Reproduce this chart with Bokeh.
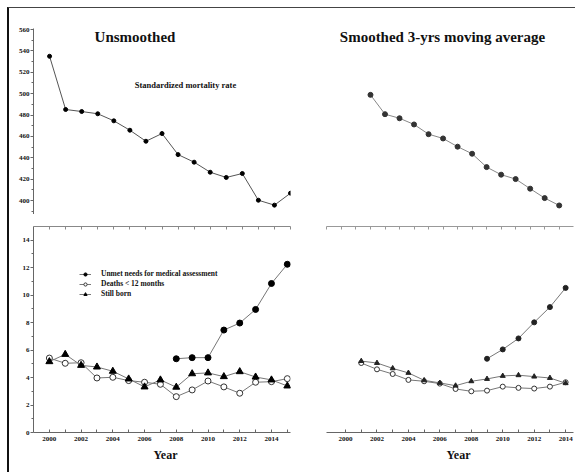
from bokeh.plotting import figure
from bokeh.layouts import column, row
from bokeh.models import LinearAxis, FixedTicker, Range1d, Label, Legend, LegendItem, Title
from bokeh.embed import file_html
from bokeh.resources import INLINE

# ---------------- data ----------------
years = list(range(2000, 2016))
smr_raw = [535.0, 485.2, 483.3, 481.2, 474.6, 465.8, 455.5, 462.7, 443.0, 435.9,
           426.5, 421.6, 425.3, 400.3, 395.7, 406.9]
years_ma = list(range(2001, 2015))
smr_ma = [498.9, 480.8, 477.0, 471.2, 462.1, 458.1, 450.4, 443.8, 431.3, 424.2,
          420.1, 411.1, 402.3, 395.4]

unmet_years = list(range(2008, 2016))
unmet_raw = [5.37, 5.45, 5.45, 7.46, 7.97, 8.96, 10.85, 12.25]
deaths_raw = [5.42, 5.04, 5.08, 3.97, 4.02, 3.78, 3.66, 3.51, 2.61, 3.10,
              3.75, 3.32, 2.86, 3.66, 3.70, 3.92]
still_raw = [5.16, 5.69, 4.89, 4.77, 4.46, 3.90, 3.32, 3.83, 3.30, 4.28,
             4.34, 4.07, 4.43, 4.04, 3.83, 3.39]

unmet_ma_years = list(range(2009, 2015))
unmet_ma = [5.37, 6.05, 6.85, 8.02, 9.13, 10.53]
deaths_ma = [5.06, 4.60, 4.26, 3.83, 3.73, 3.56, 3.17, 3.00, 3.05, 3.34,
             3.25, 3.20, 3.34, 3.66]
still_ma = [5.20, 5.06, 4.67, 4.34, 3.80, 3.61, 3.41, 3.73, 3.90, 4.12,
            4.17, 4.07, 3.97, 3.59]

smr_ticks = [400, 420, 440, 460, 480, 500, 520, 540, 560]
smr_minor = [390, 410, 430, 450, 470, 490, 510, 530, 550]
rate_ticks = [0, 2, 4, 6, 8, 10, 12, 14]
rate_minor = [1, 3, 5, 7, 9, 11, 13]
year_ticks = [2000, 2002, 2004, 2006, 2008, 2010, 2012, 2014]
minor_years = [2001, 2003, 2005, 2007, 2009, 2011, 2013, 2015]

FONT = "Liberation Serif"
LINE = "#777777"
AX = "#666666"


def base(width, height, xr, yr, ml, mr, mt, mb):
    p = figure(width=width, height=height, x_range=Range1d(*xr), y_range=Range1d(*yr),
               output_backend="svg", toolbar_location=None,
               x_axis_location=None, y_axis_location=None,
               min_border_left=ml, min_border_right=mr,
               min_border_top=mt, min_border_bottom=mb)
    p.outline_line_color = None
    p.xgrid.grid_line_color = None
    p.ygrid.grid_line_color = None
    p.background_fill_color = "white"
    p.border_fill_color = "white"
    return p


def style_axis(ax, size="7px"):
    ax.axis_line_color = AX
    ax.major_tick_line_color = AX
    ax.minor_tick_line_color = AX
    ax.major_label_text_font = FONT
    ax.major_label_text_font_style = "bold"
    ax.major_label_text_font_size = size
    ax.major_label_text_color = "#111111"


def left_axis(p, ticks, minor):
    ax = LinearAxis(ticker=FixedTicker(ticks=ticks, minor_ticks=minor))
    style_axis(ax)
    ax.major_tick_out = 3
    ax.major_tick_in = 0
    ax.minor_tick_out = 2
    ax.minor_tick_in = 0
    ax.major_label_standoff = 1
    p.add_layout(ax, "left")


def top_tick_axis(p, ticks, range_name, color):
    ax = LinearAxis(ticker=FixedTicker(ticks=ticks), x_range_name=range_name)
    style_axis(ax)
    ax.major_label_overrides = {t: "" for t in ticks}
    ax.axis_line_color = color
    ax.major_tick_line_color = color
    ax.major_tick_out = 0
    ax.major_tick_in = 3
    ax.minor_tick_line_color = None
    ax.major_label_standoff = 0
    p.add_layout(ax, "above")


def year_axis(p):
    ax = LinearAxis(ticker=FixedTicker(ticks=year_ticks, minor_ticks=minor_years))
    style_axis(ax)
    ax.major_tick_out = 0
    ax.major_tick_in = 3
    ax.minor_tick_out = 0
    ax.minor_tick_in = 3
    ax.major_label_standoff = 4
    p.add_layout(ax, "below")
    p.add_layout(Title(text="Year", align="left", offset=120, standoff=4, text_font=FONT,
                       text_font_style="bold", text_font_size="12px", text_color="#111111"),
                 "below")


LEFT_TOP_X = (1999.0, 2015.0)
RIGHT_TOP_X = (1997.97, 2014.985)
SMR_Y = (386.94, 561.0)

# ---------------- top left ----------------
p1 = base(300, 206, LEFT_TOP_X, SMR_Y, 24, 19, 20, 0)
left_axis(p1, smr_ticks, smr_minor)
p1.line(years, smr_raw, line_color="#555555", line_width=1)
p1.scatter(years, smr_raw, marker="circle", size=4, fill_color="black", line_color="black")
p1.add_layout(Label(x=2005.32, y=553.5, text="Unsmoothed", text_font=FONT,
                    text_font_style="bold", text_font_size="15px", text_color="#111111",
                    text_align="center", text_baseline="middle"))
p1.add_layout(Label(x=2008.46, y=507.7, text="Standardized mortality rate", text_font=FONT,
                    text_font_style="bold", text_font_size="8.5px", text_color="#111111",
                    text_align="center", text_baseline="middle"))

# ---------------- top right ----------------
p2 = base(266, 206, RIGHT_TOP_X, SMR_Y, 17, 2, 20, 0)
p2.line(years_ma, smr_ma, line_color="#888888", line_width=1)
p2.scatter(years_ma, smr_ma, marker="circle", size=5, fill_color="#333333", line_color="#333333")
p2.add_layout(Label(x=2005.96, y=553.5, text="Smoothed 3-yrs moving average", text_font=FONT,
                    text_font_style="bold", text_font_size="15px", text_color="#111111",
                    text_align="center", text_baseline="middle"))

RATE_Y = (0.0, 15.0)

# ---------------- bottom left ----------------
p3 = base(300, 258, (1999.0, 2015.2), RATE_Y, 24, 19, 12, 40)
p3.extra_x_ranges = {"top": Range1d(*LEFT_TOP_X)}
top_tick_axis(p3, years, "top", "#888888")
left_axis(p3, rate_ticks, rate_minor)
year_axis(p3)
l1 = p3.line(unmet_years, unmet_raw, line_color=LINE, line_width=1)
s1 = p3.scatter(unmet_years, unmet_raw, marker="circle", size=6, fill_color="black", line_color="black")
l2 = p3.line(years, deaths_raw, line_color=LINE, line_width=1)
s2 = p3.scatter(years, deaths_raw, marker="circle", size=6, fill_color="white", line_color="#333333")
l3 = p3.line(years, still_raw, line_color=LINE, line_width=1)
s3 = p3.scatter(years, still_raw, marker="triangle", size=7, fill_color="black", line_color="black")
legend = Legend(items=[
    LegendItem(label="Unmet needs for medical assessment", renderers=[l1, s1]),
    LegendItem(label="Deaths < 12 months", renderers=[l2, s2]),
    LegendItem(label="Still born", renderers=[l3, s3]),
], location=(46, 134), glyph_width=12, glyph_height=8, label_height=8, label_standoff=10,
    spacing=1, padding=0, margin=0, border_line_color=None, background_fill_alpha=0,
    label_text_font=FONT, label_text_font_style="bold", label_text_font_size="7.5px",
    label_text_color="#111111")
p3.add_layout(legend)

# ---------------- bottom right ----------------
p4 = base(266, 258, (1998.79, 2014.5), RATE_Y, 17, 2, 12, 40)
p4.extra_x_ranges = {"top": Range1d(*RIGHT_TOP_X)}
top_tick_axis(p4, list(range(1998, 2015)), "top", "#999999")
year_axis(p4)
p4.line(unmet_ma_years, unmet_ma, line_color=LINE, line_width=1)
p4.scatter(unmet_ma_years, unmet_ma, marker="circle", size=5, fill_color="#222222", line_color="#222222")
p4.line(years_ma, deaths_ma, line_color=LINE, line_width=1)
p4.scatter(years_ma, deaths_ma, marker="circle", size=5, fill_color="white", line_color="#333333")
p4.line(years_ma, still_ma, line_color=LINE, line_width=1)
p4.scatter(years_ma, still_ma, marker="triangle", size=5, fill_color="#222222", line_color="#222222")

layout = column(row(p1, p2, spacing=0), row(p3, p4, spacing=0), spacing=0,
                styles={"margin-left": "7px", "margin-top": "7px",
                        "border-left": "2px solid #111111", "border-top": "1px solid #444444"})

open("out.html", "w").write(file_html(layout, INLINE))
